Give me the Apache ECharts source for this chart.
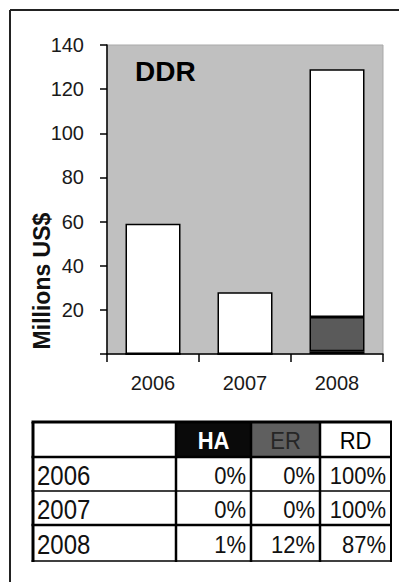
<!DOCTYPE html>
<html>
<head>
<meta charset="utf-8">
<script src="https://cdn.jsdelivr.net/npm/echarts@6/dist/echarts.min.js"></script>
<style>
  html, body { margin: 0; padding: 0; background: #fff; }
  #chart { width: 399px; height: 582px; }
</style>
</head>
<body>
<div id="chart"></div>
<script>
// Funding by year (millions US$) and its split between HA / ER / RD (percent)
const years = ['2006', '2007', '2008'];
const totals = [59, 28, 129];
const haPct = [0, 0, 1];
const erPct = [0, 0, 12];
const rdPct = [100, 100, 87];
const shareNames = ['HA', 'ER', 'RD'];
const yMin = 0, yMax = 140, yStep = 20;

const FONT = '"Liberation Sans", Arial, sans-serif';

// stacked segment values derived from the stated shares
const part = pct => totals.map((t, i) => +(t * pct[i] / 100).toFixed(2));

const barStyle = color => ({ color: color, borderColor: '#000', borderWidth: 1.5 });

// ----- summary table under the chart -----
const colX = [33, 176, 251, 320, 391];
const rowY = [422, 457, 491, 525, 561];
const hLineW = [3, 2.5, 1.5, 2.5, 1.5];
const vLineW = [3, 2.5, 2.5, 2.5, 2];
const headFill = ['#0a0a0a', '#5f5f5f', '#ffffff'];
const headText = ['#ffffff', '#262626', '#000000'];
const headWeight = ['bold', 'normal', 'normal'];

const tableEls = [];
// header cell backgrounds
for (let c = 0; c < 3; c++) {
  tableEls.push({
    type: 'rect',
    shape: { x: colX[c + 1], y: rowY[0], width: colX[c + 2] - colX[c + 1], height: rowY[1] - rowY[0] },
    style: { fill: headFill[c] }
  });
  tableEls.push({
    type: 'text',
    x: (colX[c + 1] + colX[c + 2]) / 2,
    y: (rowY[0] + rowY[1]) / 2 + 1,
    scaleY: 1.1,
    style: {
      text: shareNames[c], fill: headText[c], font: headWeight[c] + ' 22px ' + FONT,
      align: 'center', verticalAlign: 'middle'
    }
  });
}
// body rows
const pctCols = [haPct, erPct, rdPct];
years.forEach((yr, r) => {
  const cy = (rowY[r + 1] + rowY[r + 2]) / 2 + 2;
  tableEls.push({
    type: 'text', x: colX[0] + 4, y: cy, scaleY: 1.12,
    style: { text: yr, fill: '#111', font: '24px ' + FONT, align: 'left', verticalAlign: 'middle' }
  });
  pctCols.forEach((arr, c) => {
    tableEls.push({
      type: 'text', x: colX[c + 2] - 5, y: cy, scaleY: 1.12,
      style: { text: arr[r] + '%', fill: '#111', font: '22px ' + FONT, align: 'right', verticalAlign: 'middle' }
    });
  });
});
// grid lines
rowY.forEach((y, i) => {
  tableEls.push({
    type: 'line', shape: { x1: colX[0] - 1.5, y1: y, x2: colX[4] + 1, y2: y },
    style: { stroke: '#000', lineWidth: hLineW[i] }
  });
});
colX.forEach((x, i) => {
  tableEls.push({
    type: 'line', shape: { x1: x, y1: rowY[0], x2: x, y2: rowY[4] + 1 },
    style: { stroke: '#000', lineWidth: vLineW[i] }
  });
});

// outer frame (runs off the right and bottom edges)
const frameEls = [
  { type: 'line', shape: { x1: 10, y1: 10, x2: 399, y2: 10 }, style: { stroke: '#222', lineWidth: 2 } },
  { type: 'line', shape: { x1: 10, y1: 10, x2: 10, y2: 582 }, style: { stroke: '#222', lineWidth: 2 } }
];

const chart = echarts.init(document.getElementById('chart'), null, { renderer: 'svg' });

chart.setOption({
  backgroundColor: '#ffffff',
  animation: false,
  title: {
    text: 'DDR',
    left: 130, top: 52,
    textStyle: { fontFamily: FONT, fontSize: 28, fontWeight: 'bold', color: '#000' }
  },
  grid: {
    left: 107, right: 16, top: 45, bottom: 228,
    show: true, backgroundColor: '#c0c0c0', borderColor: '#a9a9a9', borderWidth: 1
  },
  xAxis: {
    type: 'category',
    data: years,
    axisLine: { lineStyle: { color: '#000', width: 1.5 } },
    axisTick: { show: true, length: 8, lineStyle: { color: '#000', width: 1.5 } },
    axisLabel: { margin: 19, fontFamily: FONT, fontSize: 20, color: '#1a1a1a' }
  },
  yAxis: {
    type: 'value',
    min: yMin, max: yMax, interval: yStep,
    name: 'Millions US$',
    nameLocation: 'middle',
    nameGap: 54,
    nameRotate: 90,
    nameMoveOverlap: false,
    nameTextStyle: {
      fontFamily: FONT, fontSize: 23, fontWeight: 'bold', color: '#111',
      padding: [0, 163, 0, 0]
    },
    axisLine: { show: true, lineStyle: { color: '#000', width: 1.5 } },
    axisTick: { show: true, length: 7, lineStyle: { color: '#000', width: 1.5 } },
    axisLabel: {
      margin: 23, fontFamily: FONT, fontSize: 20, color: '#1a1a1a',
      formatter: v => (v === 0 ? '' : String(v))
    },
    splitLine: { show: false }
  },
  series: [
    { name: 'HA', type: 'bar', stack: 'share', barWidth: 55, data: part(haPct), itemStyle: barStyle('#000000') },
    { name: 'ER', type: 'bar', stack: 'share', barWidth: 55, data: part(erPct), itemStyle: barStyle('#5a5a5a') },
    { name: 'RD', type: 'bar', stack: 'share', barWidth: 55, data: part(rdPct), itemStyle: barStyle('#ffffff') }
  ],
  graphic: frameEls.concat(tableEls)
});
</script>
</body>
</html>
